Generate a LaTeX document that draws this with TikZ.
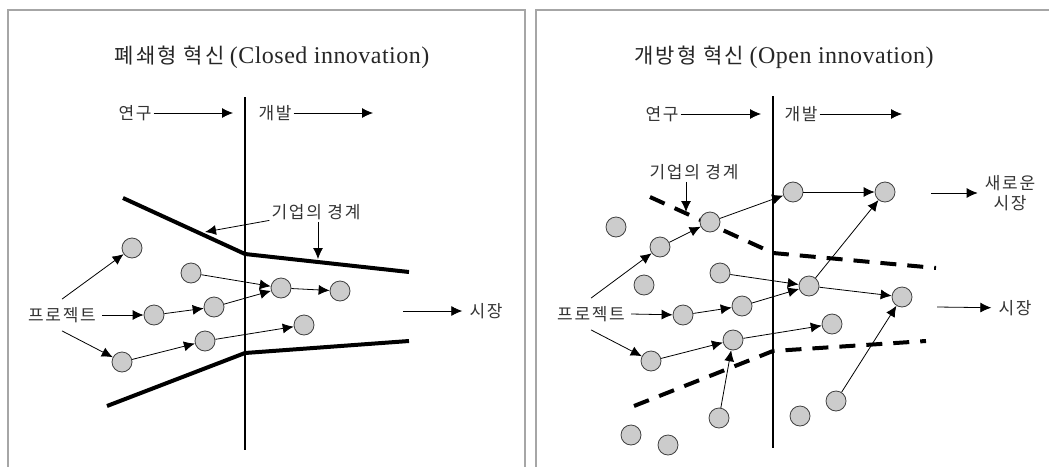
\documentclass[tikz,border=0pt]{standalone}
\usepackage{fontspec}
\setmainfont{Liberation Serif}
\newfontfamily\kr[LetterSpace=10]{Noto Sans CJK KR}
\newfontfamily\ttlfont[LetterSpace=2]{Liberation Serif}
\usetikzlibrary{arrows.meta}

\begin{document}
\begin{tikzpicture}[
  x=1pt, y=-1pt,
  >={Latex[length=11pt,width=10pt]},
  font=\kr\fontsize{17}{20}\selectfont,
  dot/.style={circle,draw=black!75,fill=gray!40,line width=0.8pt,minimum size=20pt,inner sep=0pt},
  flow/.style={->,line width=0.8pt},
  bnd/.style={line width=4pt},
  bndd/.style={line width=4pt,dash pattern=on 16pt off 11pt},
  frm/.style={draw=gray!70,line width=1.6pt},
  lbl/.style={inner sep=2pt,text=black!80},
  ttl/.style={inner sep=0pt,text=black!85},
]
\useasboundingbox (0,0) rectangle (1049,466);

% ===== frames =====
\draw[frm] (8,475) -- (8,10) -- (525,10) -- (525,475);
\draw[frm] (536,475) -- (536,10) -- (1060,10);

% ===== LEFT: closed innovation =====
\node[ttl] (t1) at (272,57)
  {{\kr\fontsize{21}{24}\selectfont 폐쇄형 혁신} {\ttlfont\fontsize{24}{26}\selectfont(Closed innovation)}};
\draw[line width=1.2pt] (245,97) -- (245,450);
\node[lbl] (res1) at (135,113) {연구};
\coordinate (res1E) at (233,113);
\draw[flow] (res1) -- (res1E);
\node[lbl] (dev1) at (275,113) {개발};
\coordinate (dev1E) at (373,113);
\draw[flow] (dev1) -- (dev1E);

% firm boundary
\draw[bnd] (123,198) -- (245,254) -- (409,272);
\draw[bnd] (107,406) -- (245,353) -- (409,341);
\node[lbl] (fb1) at (316,212) {기업의 경계};
\coordinate (fb1a) at (205,232);
\coordinate (fb1b) at (318,259);
\draw[flow] (fb1) -- (fb1a);
\draw[flow] (fb1.south -| fb1b) -- (fb1b);

\node[dot] (c1) at (132,248) {};
\node[dot] (c2) at (191,273) {};
\node[dot] (c3) at (281,288) {};
\node[dot] (c4) at (340,291) {};
\node[dot] (c5) at (154,315) {};
\node[dot] (c6) at (214,307) {};
\node[dot] (c7) at (304,325) {};
\node[dot] (c8) at (205,341) {};
\node[dot] (c9) at (122,362) {};

\node[lbl,inner ysep=8pt,inner xsep=6pt] (prj1) at (62,315) {프로젝트};
\draw[flow] (prj1.north) -- (c1);
\draw[flow] (prj1.east) -- (c5);
\draw[flow] (prj1.south) -- (c9);
\draw[flow] (c5) -- (c6);
\draw[flow] (c6) -- (c3);
\draw[flow] (c2) -- (c3);
\draw[flow] (c3) -- (c4);
\draw[flow] (c9) -- (c8);
\draw[flow] (c8) -- (c7);

\node[lbl,inner xsep=7pt] (mkt1) at (486,311) {시장};
\coordinate (mkt1W) at (403,311);
\draw[flow] (mkt1W) -- (mkt1);

% ===== RIGHT: open innovation =====
\begin{scope}[xshift=528pt]
\node[ttl] (t2) at (256,57)
  {{\kr\fontsize{21}{24}\selectfont 개방형 혁신} {\ttlfont\fontsize{24}{26}\selectfont(Open innovation)}};
\draw[line width=1.2pt] (245,96) -- (245,448);
\node[lbl] (res2) at (134,114) {연구};
\coordinate (res2E) at (233,114);
\draw[flow] (res2) -- (res2E);
\node[lbl] (dev2) at (273,114) {개발};
\coordinate (dev2E) at (374,114);
\draw[flow] (dev2) -- (dev2E);

% firm boundary (open)
\draw[bndd] (122,197) -- (245,253) -- (408,268);
\draw[bndd] (106,406) -- (245,351) -- (398,341);
\node[lbl] (fb2) at (166,172) {기업의 경계};
\coordinate (fb2b) at (158,212);
\draw[flow] (fb2.south -| fb2b) -- (fb2b);

\node[dot] (r1) at (265,192) {};
\node[dot] (r2) at (357,192) {};
\node[dot] (r3) at (182,222) {};
\node[dot] (r4) at (88,227) {};
\node[dot] (r5) at (132,247) {};
\node[dot] (r6) at (116,285) {};
\node[dot] (r7) at (192,273) {};
\node[dot] (r8) at (281,286) {};
\node[dot] (r9) at (374,297) {};
\node[dot] (r10) at (155,315) {};
\node[dot] (r11) at (214,306) {};
\node[dot] (r12) at (304,324) {};
\node[dot] (r13) at (205,340) {};
\node[dot] (r14) at (123,361) {};
\node[dot] (r15) at (191,418) {};
\node[dot] (r16) at (272,416) {};
\node[dot] (r17) at (308,401) {};
\node[dot] (r18) at (103,435) {};
\node[dot] (r19) at (140,445) {};

\node[lbl,inner ysep=8pt,inner xsep=6pt] (prj2) at (63,314) {프로젝트};
\draw[flow] (prj2.north) -- (r5);
\draw[flow] (prj2.east) -- (r10);
\draw[flow] (prj2.south) -- (r14);
\draw[flow] (r5) -- (r3);
\draw[flow] (r3) -- (r1);
\draw[flow] (r1) -- (r2);
\draw[flow] (r8) -- (r2);
\draw[flow] (r7) -- (r8);
\draw[flow] (r10) -- (r11);
\draw[flow] (r11) -- (r8);
\draw[flow] (r8) -- (r9);
\draw[flow] (r14) -- (r13);
\draw[flow] (r13) -- (r12);
\draw[flow] (r15) -- (r13);
\draw[flow] (r17) -- (r9);

\node[lbl,align=center,inner xsep=7pt] (nmk) at (482,193) {새로운\\시장};
\coordinate (nmkW) at (403,193);
\draw[flow] (nmkW) -- (nmk);
\node[lbl,inner xsep=7pt] (mkt2) at (487,308) {시장};
\coordinate (mkt2W) at (409,307);
\draw[flow] (mkt2W) -- (mkt2);
\end{scope}
\end{tikzpicture}
\end{document}
